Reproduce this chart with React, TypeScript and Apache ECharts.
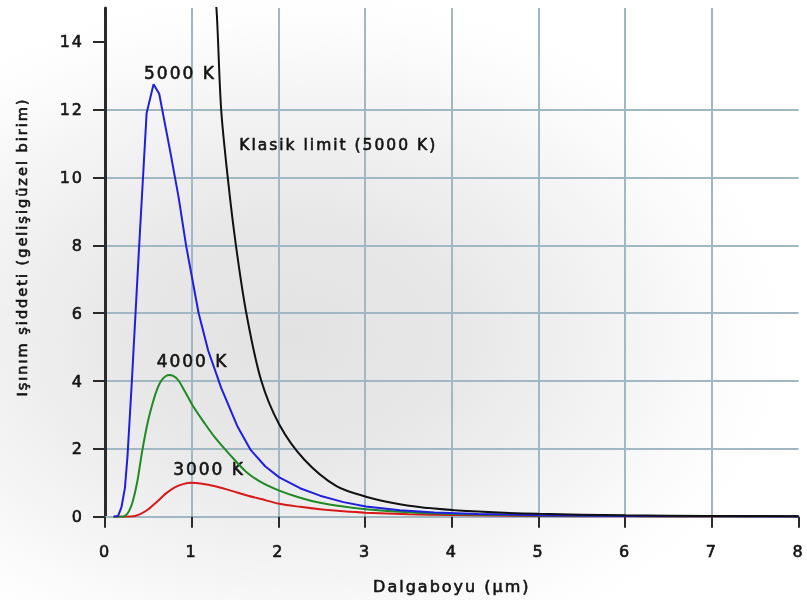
import React, { useEffect, useRef } from 'react';
import * as echarts from 'echarts';

// Radiance curves (x: wavelength µm, y: arbitrary units)
const curve3000: [number, number][] = [
  [0.1, 0], [0.3, 0.005], [0.4, 0.07], [0.5, 0.22], [0.6, 0.44], [0.7, 0.68], [0.8, 0.86],
  [0.9, 0.96], [1.0, 1.0], [1.1, 0.98], [1.27, 0.9], [1.45, 0.77], [1.65, 0.62], [1.8, 0.52],
  [2.01, 0.38], [2.25, 0.29], [2.48, 0.22], [2.75, 0.16], [3.0, 0.12], [3.5, 0.075], [4, 0.048],
  [5, 0.02], [6, 0.01], [7, 0.006], [8, 0.003],
];

const curve4000: [number, number][] = [
  [0.1, 0], [0.2, 0], [0.24, 0.04], [0.28, 0.18], [0.32, 0.45], [0.37, 1.0], [0.43, 1.95],
  [0.49, 2.75], [0.55, 3.35], [0.6, 3.75], [0.66, 4.05], [0.74, 4.18], [0.83, 4.07], [0.92, 3.7],
  [1.02, 3.24], [1.15, 2.75], [1.27, 2.33], [1.45, 1.8], [1.63, 1.32], [1.8, 1.02], [2.01, 0.77],
  [2.25, 0.56], [2.48, 0.41], [2.75, 0.3], [3.01, 0.22], [3.5, 0.13], [4, 0.08], [4.5, 0.055],
  [5, 0.035], [6, 0.018], [7, 0.01], [8, 0.006],
];

const curve5000: [number, number][] = [
  [0.1, 0], [0.15, 0.02], [0.19, 0.28], [0.23, 0.85], [0.26, 1.8], [0.31, 4.0], [0.39, 7.8],
  [0.48, 11.9], [0.56, 12.75], [0.625, 12.47], [0.75, 10.8], [0.85, 9.4], [0.935, 8.0],
  [1.08, 6.0], [1.19, 4.9], [1.34, 3.8], [1.53, 2.65], [1.68, 1.97], [1.85, 1.48], [2.01, 1.16],
  [2.25, 0.84], [2.48, 0.62], [2.75, 0.43], [3.01, 0.3], [3.4, 0.19], [3.8, 0.125], [4.3, 0.08],
  [5, 0.045], [6, 0.022], [7, 0.012], [8, 0.007],
];

const curveClassical: [number, number][] = [
  [1.26, 15.7], [1.29, 14.8], [1.34, 12.0], [1.42, 9.9], [1.51, 8.0], [1.63, 6.0], [1.8, 4.03],
  [2.01, 2.72], [2.3, 1.68], [2.67, 0.9], [3.01, 0.59], [3.4, 0.37], [3.8, 0.24], [4.3, 0.15],
  [5, 0.085], [6, 0.042], [7, 0.024], [8, 0.014],
];

const labelTexts = ['5000 K', '4000 K', '3000 K', 'Klasik limit (5000 K)'];
const labelX = [0.864, 1.01, 1.2, 2.69];
const labelY = [13.09, 4.59, 1.41, 10.97];
const labelSizes = [17, 17, 17, 15.5];

const yTickValues = [0, 2, 4, 6, 8, 10, 12, 14];
const xName = 'Dalgaboyu (µm)';
const yName = 'Işınım şiddeti (gelişigüzel birim)';

const FONT = 'DejaVu Sans';
const GRID_COLOR = '#a1b7c1';
const AXIS_DARK = '#2a2a2a';
const TEXT = '#141414';
const THICK = { textBorderColor: TEXT, textBorderWidth: 0.6 };

export default function App() {
  const ref = useRef<HTMLDivElement>(null);

  useEffect(() => {
    const chart = echarts.init(ref.current!, null, { renderer: 'svg' });
    const lineSeries = (data: [number, number][], color: string, smooth: number | boolean) => ({
      type: 'line',
      data,
      showSymbol: false,
      symbol: 'none',
      smooth,
      clip: true,
      lineStyle: { color, width: 2 },
      silent: true,
    });
    chart.setOption({
      animation: false,
      backgroundColor: 'transparent',
      textStyle: { fontFamily: FONT, color: TEXT },
      grid: { left: 105, top: 8, right: -2, bottom: 83 },
      xAxis: {
        type: 'value',
        min: 0,
        max: 8,
        interval: 1,
        name: xName,
        nameLocation: 'middle',
        nameGap: 62,
        nameTextStyle: { fontFamily: FONT, fontSize: 16, color: TEXT, ...THICK },
        axisLine: { show: true, lineStyle: { color: GRID_COLOR, width: 2 } },
        axisTick: { show: true, length: 11, lineStyle: { color: AXIS_DARK, width: 2 } },
        axisLabel: { margin: 27, fontSize: 16, color: TEXT, fontFamily: FONT, ...THICK },
        splitLine: {
          show: true,
          showMinLine: false,
          showMaxLine: false,
          lineStyle: { color: GRID_COLOR, width: 2 },
        },
      },
      yAxis: {
        type: 'value',
        min: 0,
        max: 15,
        interval: 2,
        axisLine: { show: true, lineStyle: { color: AXIS_DARK, width: 3 } },
        axisTick: {
          show: true,
          length: 12,
          customValues: yTickValues,
          lineStyle: { color: AXIS_DARK, width: 2 },
        },
        axisLabel: {
          margin: 21,
          fontSize: 16,
          color: TEXT,
          fontFamily: FONT,
          customValues: yTickValues,
          ...THICK,
        },
        splitLine: {
          show: true,
          showMaxLine: false,
          lineStyle: { color: GRID_COLOR, width: 2 },
        },
      },
      graphic: [
        {
          type: 'text',
          x: 22,
          y: 247,
          rotation: Math.PI / 2,
          style: {
            text: yName,
            fontFamily: FONT,
            fontSize: 14.5,
            fill: TEXT,
            stroke: TEXT,
            lineWidth: 0.6,
            textAlign: 'center',
            textVerticalAlign: 'middle',
          },
        },
      ],
      series: [
        lineSeries(curve3000, '#d61a1a', 0.3),
        lineSeries(curve4000, '#1f8a24', 0.3),
        lineSeries(curve5000, '#1f1fe0', false),
        lineSeries(curveClassical, '#111111', 0.3),
        {
          type: 'scatter',
          symbolSize: 1,
          clip: false,
          silent: true,
          itemStyle: { color: 'transparent', opacity: 1 },
          label: {
            show: true,
            position: 'inside',
            formatter: '{b}',
            color: TEXT,
            fontFamily: FONT,
            align: 'center',
            verticalAlign: 'middle',
            ...THICK,
          },
          data: labelTexts.map((t, i) => ({
            name: t,
            value: [labelX[i], labelY[i]],
            label: { fontSize: labelSizes[i] },
          })),
        },
      ],
    });
    return () => chart.dispose();
  }, []);

  return (
    <div
      ref={ref}
      style={{
        position: 'fixed',
        left: 0,
        top: 0,
        width: 807,
        height: 600,
        letterSpacing: '2px',
        background:
          'radial-gradient(ellipse 62% 58% at 36% 56%, #e2e2e2 0%, #e8e8e8 35%, #f3f3f3 65%, #fdfdfd 90%, #ffffff 100%)',
      }}
    />
  );
}
